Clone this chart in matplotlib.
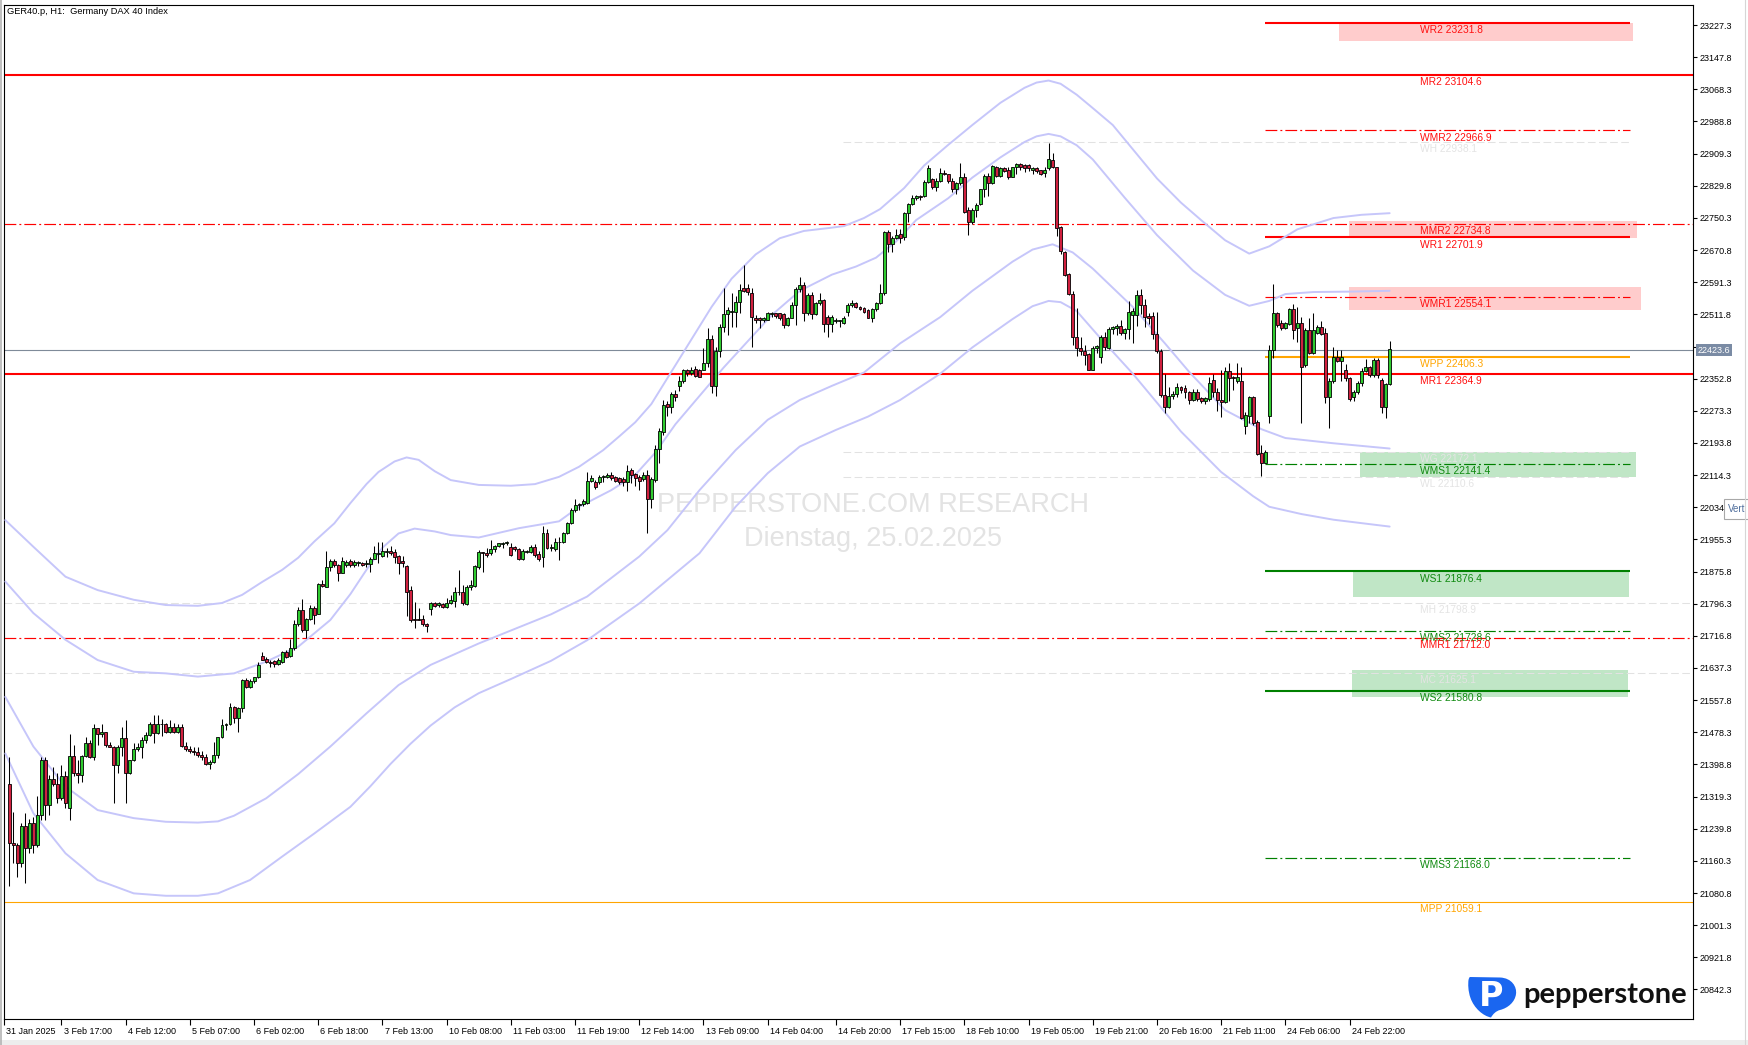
import matplotlib
matplotlib.use("Agg")
import matplotlib.pyplot as plt
import matplotlib.transforms as mtransforms
from matplotlib.patches import Rectangle, PathPatch
from matplotlib.path import Path

plt.rcParams['lines.scale_dashes'] = False
plt.rcParams['font.family'] = ['Liberation Sans', 'DejaVu Sans']

# ---------------- candle data (H1 bars) ----------------
opens = [
    21350, 21205, 21200, 21156, 21246, 21191, 21253, 21200, 21274, 21410,
    21298, 21362, 21350, 21315, 21370, 21290, 21420, 21378, 21372, 21420,
    21451, 21418, 21488, 21474, 21478, 21447, 21443, 21397, 21443, 21463,
    21377, 21410, 21436, 21443, 21459, 21472, 21500, 21476, 21500, 21498,
    21480, 21492, 21480, 21492, 21445, 21436, 21433, 21430, 21422, 21418,
    21400, 21406, 21422, 21466, 21496, 21500, 21542, 21513, 21538, 21608,
    21591, 21606, 21616, 21667, 21659, 21653, 21655, 21647, 21653, 21678,
    21667, 21686, 21746, 21781, 21731, 21758, 21785, 21772, 21845, 21838,
    21888, 21903, 21892, 21873, 21892, 21903, 21892, 21896, 21898, 21894,
    21894, 21908, 21919, 21914, 21925, 21927, 21925, 21914, 21903, 21890,
    21829, 21758, 21758, 21758, 21746, 21782, 21799, 21793, 21796, 21787,
    21799, 21804, 21824, 21826, 21795, 21837, 21840,
    21888, 21925, 21921, 21921, 21931, 21939, 21944, 21946, 21937, 21936,
    21931, 21906, 21925, 21925, 21936, 21919, 21911, 21970, 21933, 21931,
    21950, 21950, 21972, 21997, 22028, 22040, 22043, 22046, 22100, 22098,
    22096, 22110, 22110, 22114, 22109, 22106, 22104, 22098, 22127, 22117,
    22109, 22104, 22114, 22054, 22102, 22180, 22222, 22290, 22282, 22315,
    22335, 22348, 22373, 22366, 22376, 22374, 22374, 22391, 22452, 22335,
    22422, 22481, 22513, 22518, 22518, 22543, 22576, 22576, 22565, 22504,
    22502, 22499, 22499, 22513, 22514, 22514, 22513, 22485, 22504, 22535,
    22574, 22584, 22514, 22560, 22513, 22541, 22547, 22506, 22488, 22496,
    22496, 22491, 22518, 22535, 22539, 22531, 22527, 22522, 22504, 22524,
    22539, 22564, 22716, 22687, 22700, 22710, 22702, 22762, 22785, 22799,
    22804, 22804, 22840, 22846, 22826, 22842, 22862,
    22858, 22842, 22821, 22837, 22851, 22770, 22741, 22771, 22785, 22821,
    22854, 22837, 22877, 22854, 22873, 22869, 22852, 22875, 22884, 22881,
    22881, 22870, 22873, 22869, 22862, 22873, 22893, 22875, 22727, 22667,
    22612, 22562, 22455, 22428, 22420, 22414, 22374, 22428, 22407, 22457,
    22428, 22475, 22477, 22483, 22466, 22475, 22510, 22510, 22560, 22535,
    22508, 22508, 22463, 22422, 22312, 22283, 22310, 22316, 22331, 22329,
    22321, 22300, 22321, 22304, 22298, 22302, 22349, 22321, 22300, 22296,
    22372, 22356, 22348, 22348, 22236, 22260, 22307, 22246, 22168, 22145,
    22260, 22424, 22516, 22491, 22477, 22489, 22524, 22477, 22491, 22387,
    22473, 22417, 22465, 22480, 22465, 22308, 22348, 22407, 22397, 22374,
    22354, 22308, 22321, 22343, 22372, 22381, 22362, 22399, 22349, 22282, 22340,
]
highs = [
    21418, 21282, 21205, 21253, 21278, 21265, 21268, 21321, 21418, 21418,
    21373, 21392, 21378, 21397, 21383, 21474, 21447, 21411, 21422, 21467,
    21459, 21499, 21490, 21499, 21480, 21455, 21444, 21447, 21492, 21509,
    21411, 21451, 21453, 21467, 21480, 21504, 21521, 21521, 21510, 21502,
    21509, 21502, 21499, 21500, 21455, 21444, 21443, 21443, 21433, 21425,
    21410, 21455, 21467, 21510, 21502, 21550, 21543, 21542, 21609, 21612,
    21609, 21616, 21653, 21678, 21665, 21657, 21657, 21661, 21680, 21681,
    21708, 21756, 21787, 21807, 21760, 21793, 21791, 21848, 21855, 21927,
    21906, 21906, 21894, 21913, 21904, 21908, 21904, 21903, 21900, 21904,
    21911, 21939, 21949, 21949, 21933, 21939, 21931, 21917, 21914, 21892,
    21840, 21801, 21785, 21768, 21749, 21801, 21801, 21801, 21797, 21810,
    21818, 21837, 21880, 21842, 21842, 21855, 21892,
    21929, 21925, 21933, 21954, 21941, 21947, 21950, 21952, 21947, 21939,
    21933, 21931, 21929, 21941, 21944, 21927, 21988, 21980, 21945, 21958,
    21962, 21974, 21999, 22033, 22054, 22045, 22054, 22123, 22114, 22102,
    22114, 22114, 22119, 22123, 22112, 22110, 22110, 22139, 22131, 22120,
    22114, 22123, 22128, 22110, 22189, 22230, 22300, 22298, 22321, 22325,
    22359, 22376, 22376, 22381, 22384, 22377, 22428, 22477, 22461, 22432,
    22489, 22576, 22531, 22564, 22557, 22588, 22634, 22587, 22576, 22510,
    22506, 22506, 22518, 22518, 22516, 22516, 22516, 22506, 22543, 22580,
    22605, 22593, 22564, 22568, 22543, 22564, 22551, 22510, 22510, 22502,
    22499, 22508, 22539, 22547, 22543, 22533, 22529, 22524, 22527, 22543,
    22588, 22719, 22720, 22706, 22722, 22722, 22766, 22788, 22807, 22807,
    22807, 22844, 22881, 22848, 22848, 22873, 22869,
    22860, 22848, 22840, 22885, 22862, 22778, 22776, 22788, 22823, 22859,
    22862, 22881, 22879, 22877, 22877, 22875, 22877, 22887, 22887, 22884,
    22884, 22875, 22875, 22870, 22875, 22936, 22912, 22877, 22730, 22669,
    22615, 22570, 22527, 22457, 22436, 22417, 22434, 22436, 22461, 22469,
    22481, 22483, 22489, 22498, 22477, 22546, 22527, 22572, 22574, 22551,
    22514, 22518, 22518, 22425, 22364, 22333, 22323, 22343, 22335, 22337,
    22323, 22326, 22326, 22308, 22308, 22356, 22364, 22329, 22374, 22381,
    22391, 22359, 22392, 22381, 22271, 22310, 22310, 22251, 22189, 22176,
    22436, 22587, 22518, 22498, 22494, 22527, 22537, 22529, 22506, 22477,
    22502, 22516, 22485, 22496, 22477, 22354, 22432, 22424, 22424, 22389,
    22356, 22325, 22348, 22378, 22401, 22384, 22403, 22403, 22354, 22341, 22446,
]
lows = [
    21097, 21154, 21121, 21146, 21106, 21181, 21181, 21195, 21262, 21262,
    21274, 21345, 21303, 21310, 21290, 21261, 21370, 21352, 21356, 21418,
    21414, 21410, 21447, 21467, 21443, 21441, 21303, 21378, 21420, 21303,
    21375, 21408, 21433, 21414, 21451, 21468, 21451, 21474, 21469, 21477,
    21476, 21476, 21477, 21443, 21433, 21428, 21422, 21418, 21411, 21397,
    21387, 21403, 21414, 21463, 21484, 21496, 21502, 21480, 21529, 21587,
    21587, 21601, 21612, 21657, 21650, 21639, 21639, 21645, 21650, 21662,
    21665, 21683, 21740, 21727, 21711, 21756, 21746, 21771, 21837, 21837,
    21876, 21886, 21853, 21871, 21888, 21888, 21886, 21889, 21889, 21886,
    21875, 21906, 21896, 21911, 21911, 21917, 21898, 21870, 21886, 21766,
    21752, 21735, 21756, 21741, 21727, 21768, 21787, 21789, 21785, 21785,
    21795, 21789, 21818, 21793, 21793, 21830, 21837,
    21881, 21875, 21913, 21917, 21925, 21937, 21933, 21941, 21914, 21927,
    21904, 21904, 21921, 21922, 21913, 21903, 21888, 21931, 21927, 21927,
    21904, 21946, 21969, 21993, 22024, 22028, 22038, 22044, 22096, 22079,
    22092, 22098, 22106, 22102, 22096, 22092, 22087, 22076, 22094, 22087,
    22077, 22100, 21972, 22034, 22098, 22143, 22213, 22260, 22269, 22298,
    22323, 22341, 22359, 22362, 22356, 22356, 22373, 22381, 22317, 22310,
    22407, 22469, 22461, 22481, 22481, 22516, 22568, 22560, 22432, 22490,
    22477, 22494, 22498, 22506, 22502, 22498, 22477, 22483, 22502, 22485,
    22568, 22496, 22510, 22500, 22510, 22535, 22469, 22457, 22469, 22490,
    22481, 22488, 22508, 22531, 22527, 22522, 22514, 22502, 22494, 22521,
    22537, 22560, 22667, 22667, 22697, 22689, 22696, 22741, 22782, 22795,
    22795, 22803, 22836, 22823, 22818, 22840, 22856,
    22837, 22815, 22809, 22832, 22762, 22708, 22735, 22752, 22782, 22803,
    22804, 22834, 22851, 22851, 22865, 22846, 22851, 22859, 22870, 22865,
    22867, 22859, 22862, 22856, 22851, 22870, 22873, 22706, 22661, 22607,
    22560, 22436, 22409, 22411, 22386, 22373, 22373, 22417, 22391, 22424,
    22425, 22463, 22461, 22461, 22452, 22452, 22440, 22483, 22513, 22481,
    22488, 22450, 22417, 22308, 22269, 22279, 22302, 22308, 22317, 22304,
    22290, 22298, 22298, 22292, 22290, 22298, 22308, 22274, 22259, 22293,
    22298, 22325, 22343, 22252, 22216, 22242, 22238, 22164, 22112, 22143,
    22242, 22403, 22481, 22473, 22475, 22485, 22452, 22444, 22242, 22381,
    22414, 22414, 22463, 22461, 22293, 22230, 22343, 22395, 22348, 22348,
    22298, 22298, 22316, 22335, 22370, 22356, 22358, 22354, 22269, 22255, 22337,
]
closes = [
    21205, 21200, 21156, 21246, 21191, 21253, 21200, 21274, 21410, 21298,
    21362, 21350, 21315, 21370, 21304, 21420, 21378, 21372, 21420, 21451,
    21418, 21488, 21474, 21478, 21447, 21443, 21397, 21443, 21463, 21377,
    21410, 21436, 21443, 21459, 21472, 21500, 21476, 21500, 21498, 21480,
    21492, 21480, 21492, 21445, 21436, 21433, 21430, 21422, 21418, 21400,
    21406, 21422, 21466, 21496, 21500, 21542, 21513, 21538, 21608, 21591,
    21606, 21616, 21645, 21657, 21653, 21650, 21647, 21657, 21678, 21665,
    21686, 21746, 21781, 21731, 21758, 21785, 21768, 21845, 21840, 21888,
    21903, 21892, 21873, 21903, 21900, 21892, 21900, 21900, 21892, 21898,
    21908, 21922, 21922, 21927, 21927, 21922, 21912, 21898, 21896, 21824,
    21756, 21756, 21756, 21746, 21740, 21799, 21790, 21799, 21787, 21799,
    21806, 21824, 21826, 21797, 21837, 21842, 21890,
    21925, 21921, 21917, 21931, 21939, 21946, 21947, 21950, 21917, 21931,
    21906, 21927, 21927, 21937, 21917, 21908, 21970, 21933, 21937, 21950,
    21948, 21972, 21997, 22028, 22040, 22044, 22051, 22100, 22106, 22084,
    22110, 22112, 22114, 22106, 22100, 22096, 22098, 22125, 22114, 22106,
    22100, 22114, 22054, 22104, 22180, 22224, 22288, 22282, 22315, 22307,
    22348, 22373, 22366, 22374, 22359, 22358, 22391, 22452, 22335, 22422,
    22481, 22513, 22523, 22521, 22543, 22572, 22570, 22568, 22506, 22498,
    22499, 22502, 22514, 22516, 22508, 22502, 22485, 22504, 22535, 22574,
    22584, 22514, 22560, 22513, 22539, 22547, 22488, 22488, 22506, 22499,
    22498, 22504, 22535, 22539, 22531, 22524, 22518, 22504, 22524, 22539,
    22564, 22716, 22687, 22700, 22708, 22700, 22762, 22785, 22799, 22804,
    22801, 22840, 22873, 22826, 22842, 22862, 22859,
    22842, 22821, 22837, 22851, 22766, 22741, 22771, 22782, 22821, 22854,
    22837, 22879, 22854, 22873, 22867, 22852, 22875, 22884, 22875, 22873,
    22873, 22873, 22867, 22860, 22870, 22895, 22875, 22725, 22669, 22609,
    22562, 22455, 22428, 22420, 22411, 22374, 22428, 22434, 22457, 22432,
    22475, 22480, 22483, 22466, 22475, 22518, 22521, 22560, 22535, 22506,
    22504, 22463, 22422, 22312, 22283, 22310, 22316, 22333, 22325, 22321,
    22300, 22321, 22302, 22298, 22304, 22343, 22321, 22300, 22296, 22372,
    22354, 22354, 22358, 22255, 22263, 22307, 22244, 22166, 22145, 22172,
    22424, 22516, 22485, 22477, 22491, 22524, 22473, 22491, 22382, 22473,
    22417, 22473, 22480, 22463, 22308, 22348, 22407, 22397, 22407, 22354,
    22302, 22321, 22343, 22372, 22381, 22362, 22399, 22362, 22282, 22340, 22425,
]

# ---------------- envelope bands ----------------
u2_bar = [-1, 6, 14, 22, 31, 39, 47, 53, 58, 63, 68, 72, 76, 81, 85, 89, 92, 96, 99, 102,
          106, 110, 117, 125, 131, 137, 142, 148, 152, 156, 160, 165, 170, 175, 180, 186, 192,
          198, 204, 208, 213, 217, 223, 228, 234, 240, 247, 253, 256, 259, 262, 266, 270, 275,
          280, 286, 292, 297, 303, 309, 314, 321, 330, 337, 344]
u2_val = [22003, 21937, 21863, 21830, 21806, 21793, 21791, 21798, 21818, 21850, 21880, 21910,
          21950, 21995, 22045, 22092, 22122, 22148, 22158, 22152, 22124, 22102, 22090, 22088,
          22092, 22110, 22135, 22176, 22210, 22245, 22290, 22370, 22450, 22530, 22600, 22660,
          22700, 22718, 22725, 22730, 22750, 22772, 22824, 22880, 22931, 22980, 23035, 23072,
          23085, 23090, 23082, 23055, 23022, 22980, 22920, 22848, 22788, 22745, 22695, 22662,
          22680, 22722, 22750, 22758, 22762]
u1_bar = [-1, 6, 14, 22, 31, 39, 47, 56, 64, 72, 80, 85, 89, 93, 97, 101, 106, 110, 117, 127,
          137, 142, 150, 156, 161, 166, 172, 178, 184, 190, 197, 205, 211, 216, 221, 226, 234,
          240, 247, 253, 256, 259, 262, 266, 270, 278, 286, 295, 303, 309, 314, 318, 325, 334,
          344]
u1_val = [21851, 21773, 21707, 21657, 21628, 21624, 21616, 21624, 21653, 21690, 21756, 21820,
          21880, 21935, 21970, 21982, 21975, 21966, 21960, 21983, 22000, 22036, 22077, 22115,
          22170, 22240, 22310, 22380, 22445, 22510, 22570, 22610, 22630, 22652, 22692, 22745,
          22799, 22850, 22900, 22938, 22952, 22958, 22952, 22930, 22895, 22800, 22708, 22620,
          22560, 22533, 22545, 22562, 22567, 22568, 22570]
l1_bar = [-1, 6, 14, 22, 31, 39, 47, 52, 56, 64, 72, 80, 89, 97, 105, 117, 125, 135, 144, 157,
          164, 172, 181, 189, 197, 205, 213, 222, 232, 240, 250, 255, 260, 265, 270, 280, 288,
          294, 303, 312, 318, 330, 344]
l1_val = [21566, 21443, 21344, 21286, 21266, 21257, 21255, 21258, 21272, 21315, 21375, 21443,
          21525, 21595, 21645, 21698, 21730, 21770, 21814, 21913, 21978, 22077, 22176, 22251,
          22300, 22335, 22368, 22440, 22505, 22570, 22642, 22672, 22685, 22665, 22625, 22530,
          22440, 22370, 22275, 22228, 22206, 22193, 22180]
l2_bar = [-1, 6, 14, 22, 31, 39, 47, 52, 60, 68, 76, 85, 90, 95, 100, 105, 111, 117, 125, 135,
          144, 157, 172, 181, 189, 197, 206, 214, 222, 232, 240, 250, 255, 259, 262, 266, 272,
          280, 292, 302, 310, 314, 322, 330, 344]
l2_val = [21426, 21278, 21179, 21113, 21080, 21074, 21074, 21080, 21113, 21171, 21228, 21294,
          21345, 21400, 21450, 21495, 21540, 21575, 21610, 21655, 21706, 21797, 21921, 22036,
          22119, 22185, 22226, 22259, 22300, 22365, 22430, 22500, 22532, 22545, 22542, 22520,
          22452, 22365, 22222, 22122, 22062, 22036, 22018, 22004, 21987]

# ---------------- pivot levels ----------------
level_names = ["WR2", "MR2", "WMR2", "WH", "MMR2", "WR1", "WMR1", "WPP", "MR1", "WG",
               "WMS1", "WL", "WS1", "MH", "WMS2", "MMR1", "MC", "WS2", "WMS3", "MPP"]
level_values = [23231.8, 23104.6, 22966.9, 22938.1, 22734.8, 22701.9, 22554.1, 22406.3,
                22364.9, 22172.1, 22141.4, 22110.6, 21876.4, 21798.9, 21728.6, 21712.0,
                21625.1, 21580.8, 21168.0, 21059.1]
current_price = 22423.6

zone_top = [23232.2, 22742.6, 22579.4, 22171.4, 21879.6, 21632.3]
zone_bottom = [23187.7, 22700.6, 22522.5, 22109.6, 21812.9, 21566.0]
zone_start = [331.4, 333.9, 333.9, 336.6, 334.9, 334.6]
zone_end = [404.6, 405.6, 406.6, 405.4, 403.6, 403.4]
zone_kind = ["res", "res", "res", "sup", "sup", "sup"]

xtick_pos = [-1.45, 13, 29, 45, 61, 77, 93, 109, 125, 141, 157, 173, 189, 206, 222, 238,
             254, 270, 286, 302, 318, 334]
xtick_labels = ["31 Jan 2025", "3 Feb 17:00", "4 Feb 12:00", "5 Feb 07:00", "6 Feb 02:00",
                "6 Feb 18:00", "7 Feb 13:00", "10 Feb 08:00", "11 Feb 03:00", "11 Feb 19:00",
                "12 Feb 14:00", "13 Feb 09:00", "14 Feb 04:00", "14 Feb 20:00", "17 Feb 15:00",
                "18 Feb 10:00", "19 Feb 05:00", "19 Feb 21:00", "20 Feb 16:00", "21 Feb 11:00",
                "24 Feb 06:00", "24 Feb 22:00"]
ytick_vals = [23227.3, 23147.8, 23068.3, 22988.8, 22909.3, 22829.8, 22750.3, 22670.8, 22591.3,
              22511.8, 22432.3, 22352.8, 22273.3, 22193.8, 22114.3, 22034.8, 21955.3, 21875.8,
              21796.3, 21716.8, 21637.3, 21557.8, 21478.3, 21398.8, 21319.3, 21239.8, 21160.3,
              21080.8, 21001.3, 20921.8, 20842.3]

# ---------------- layout / style ----------------
W, H = 1748, 1045
fig = plt.figure(figsize=(W / 100, H / 100), dpi=100)
fig.patch.set_facecolor("white")
AX_L, AX_R, AX_T, AX_B = 3.5, 1693, 5, 1019
ax = fig.add_axes([AX_L / W, 1 - AX_B / H, (AX_R - AX_L) / W, (AX_B - AX_T) / H])
XMIN, XMAX = -1.45, 419.6
ax.set_xlim(XMIN, XMAX)
ax.set_ylim(20769.3, 23276.8)

RED = "#FF0000"
GRN = "#008000"
ORG = "#FFA500"
FAINT = "#E2E2E2"
DASHDOT = (0, (8.5, 2.2, 1.4, 2.2))
FDASH = (0, (5.5, 2.5))
WEEK0, WEEK1, WEXT0 = 312.9, 403.9, 207.8
LABEL_X = 351.5

style = {
    "WR2": (RED, "-", 1.5, "week"), "MR2": (RED, "-", 1.5, "month"),
    "WMR2": (RED, DASHDOT, 0.85, "week"), "WH": (FAINT, FDASH, 0.75, "wext"),
    "MMR2": (RED, DASHDOT, 0.85, "month"), "WR1": (RED, "-", 1.5, "week"),
    "WMR1": (RED, DASHDOT, 0.85, "week"), "WPP": (ORG, "-", 1.5, "week"),
    "MR1": (RED, "-", 1.5, "month"), "WG": (FAINT, FDASH, 0.75, "wext"),
    "WMS1": (GRN, DASHDOT, 0.85, "week"), "WL": (FAINT, FDASH, 0.75, "wext"),
    "WS1": (GRN, "-", 1.5, "week"), "MH": (FAINT, FDASH, 0.75, "month"),
    "WMS2": (GRN, DASHDOT, 0.85, "week"), "MMR1": (RED, DASHDOT, 0.85, "month"),
    "MC": (FAINT, FDASH, 0.75, "month"), "WS2": (GRN, "-", 1.5, "week"),
    "WMS3": (GRN, DASHDOT, 0.85, "week"), "MPP": (ORG, "-", 0.8, "month"),
}
label_color = {RED: "#FF1010", GRN: "#108A10", ORG: "#FFA500", FAINT: "#E4E4E4"}

# zones
for t, b, x0, x1, k in zip(zone_top, zone_bottom, zone_start, zone_end, zone_kind):
    ax.add_patch(Rectangle((x0, b), x1 - x0, t - b,
                           facecolor="#FFCCCC" if k == "res" else "#C0E6C6",
                           edgecolor="none", zorder=1))

# watermark
ax.text(873 / W, 1 - 505 / H, "PEPPERSTONE.COM RESEARCH", transform=fig.transFigure,
        ha="center", va="center", fontsize=19.5, color="#E3E3E3", zorder=0.5)
ax.text(873 / W, 1 - 539 / H, "Dienstag, 25.02.2025", transform=fig.transFigure,
        ha="center", va="center", fontsize=19.5, color="#E3E3E3", zorder=0.5)

# levels
for name, val in zip(level_names, level_values):
    col, ls, lw, span = style[name]
    if span == "month":
        x0, x1 = XMIN, XMAX
    elif span == "week":
        x0, x1 = WEEK0, WEEK1
    else:
        x0, x1 = WEXT0, WEEK1
    ax.hlines(val, x0, x1, colors=col, linestyles=[ls], linewidth=lw, zorder=2)
    ax.annotate(f"{name} {val:.1f}", xy=(LABEL_X, val), xytext=(0, -1.6),
                textcoords="offset points", ha="left", va="top", fontsize=7.4,
                color=label_color[col], zorder=8)

# current price line
ax.axhline(current_price, color="#7F8B99", linewidth=0.8, zorder=2)

# bands
for bx, by in ((u2_bar, u2_val), (u1_bar, u1_val), (l1_bar, l1_val), (l2_bar, l2_val)):
    ax.plot(bx, by, color="#C6C6FA", linewidth=1.4, zorder=3,
            solid_capstyle="round", solid_joinstyle="round")

# candles
xs = list(range(len(closes)))
ax.vlines(xs, lows, highs, colors="black", linewidth=0.75, zorder=4)
bottoms = [min(o, c) for o, c in zip(opens, closes)]
heights = [max(abs(c - o), 0.6) for o, c in zip(opens, closes)]
fills = ["#2FCB2F" if c >= o else "#D0203F" for o, c in zip(opens, closes)]
ax.bar(xs, heights, bottom=bottoms, width=0.74, color=fills, edgecolor="black",
       linewidth=0.6, zorder=5)

# axes styling
for sp in ax.spines.values():
    sp.set_color("black")
    sp.set_linewidth(0.8)
ax.yaxis.tick_right()
ax.set_yticks(ytick_vals)
ax.set_yticklabels([f"{v:.1f}" for v in ytick_vals], fontsize=6.5)
ax.tick_params(axis="y", direction="out", length=3, width=0.8, pad=1.5, colors="black")
ax.set_xticks(xtick_pos)
ax.set_xticklabels(xtick_labels, fontsize=6.5)
ax.tick_params(axis="x", direction="out", length=4, width=0.8, pad=1.5)
shift = mtransforms.ScaledTranslation(1.5 / 72, 0, fig.dpi_scale_trans)
for lbl in ax.get_xticklabels():
    lbl.set_horizontalalignment("left")
    lbl.set_transform(lbl.get_transform() + shift)

# current price tag on the price scale
ax.annotate(f"{current_price:.1f}", xy=(1.0, current_price),
            xycoords=mtransforms.blended_transform_factory(ax.transAxes, ax.transData),
            xytext=(3.2, 0), textcoords="offset points", ha="left", va="center",
            fontsize=6.5, color="white", zorder=10, annotation_clip=False,
            bbox=dict(boxstyle="square,pad=0.18", fc="#7A8BA4", ec="none"))

# ---------------- overlay: window chrome, title, logo ----------------
ov = fig.add_axes([0, 0, 1, 1], zorder=20)
ov.set_xlim(0, W)
ov.set_ylim(H, 0)
ov.axis("off")
ov.patch.set_alpha(0)
ov.plot([1.2, 1.2], [0, H], color="#B4B4B4", lw=1.2)
ov.plot([1744.5, 1744.5], [0, H], color="#D6D6D6", lw=0.8)
ov.add_patch(Rectangle((0, 1040), W, 5, fc="#EDEDED", ec="none"))
ov.text(7, 11.5, "GER40.p, H1:  Germany DAX 40 Index", fontsize=6.7, va="center",
        ha="left", color="black")

# tooltip (partly covers a price-scale label, as in the original)
ov.add_patch(Rectangle((1724, 499), 27, 20, fc="white", ec="#A8A8A8", lw=0.8))
ov.text(1727.5, 509.5, "Vert", fontsize=7.0, va="center", ha="left", color="#4F6E9C")

# logo
verts = [(1470, 977), (1500, 977.5),
         (1512, 978), (1517, 987), (1516, 994),
         (1515, 1002), (1508, 1008), (1500, 1010),
         (1496, 1011), (1493, 1014), (1491, 1017.5),
         (1483, 1016), (1474, 1008), (1470.5, 998),
         (1468, 991), (1468, 984), (1468.5, 980),
         (1469, 978), (1469.5, 977), (1470, 977)]
codes = [Path.MOVETO, Path.LINETO] + [Path.CURVE4] * 18
ov.add_patch(PathPatch(Path(verts, codes), fc="#1A66F0", ec="none"))
ov.text(1491, 997, "P", fontsize=24, fontweight="bold", family="DejaVu Sans",
        color="white", ha="center", va="center")
ov.text(1523, 1003, "pepperstone", fontsize=21, fontweight="bold",
        family=["Lato", "DejaVu Sans"], color="#111111", ha="left", va="baseline")

fig.savefig("out.png", dpi=100)
